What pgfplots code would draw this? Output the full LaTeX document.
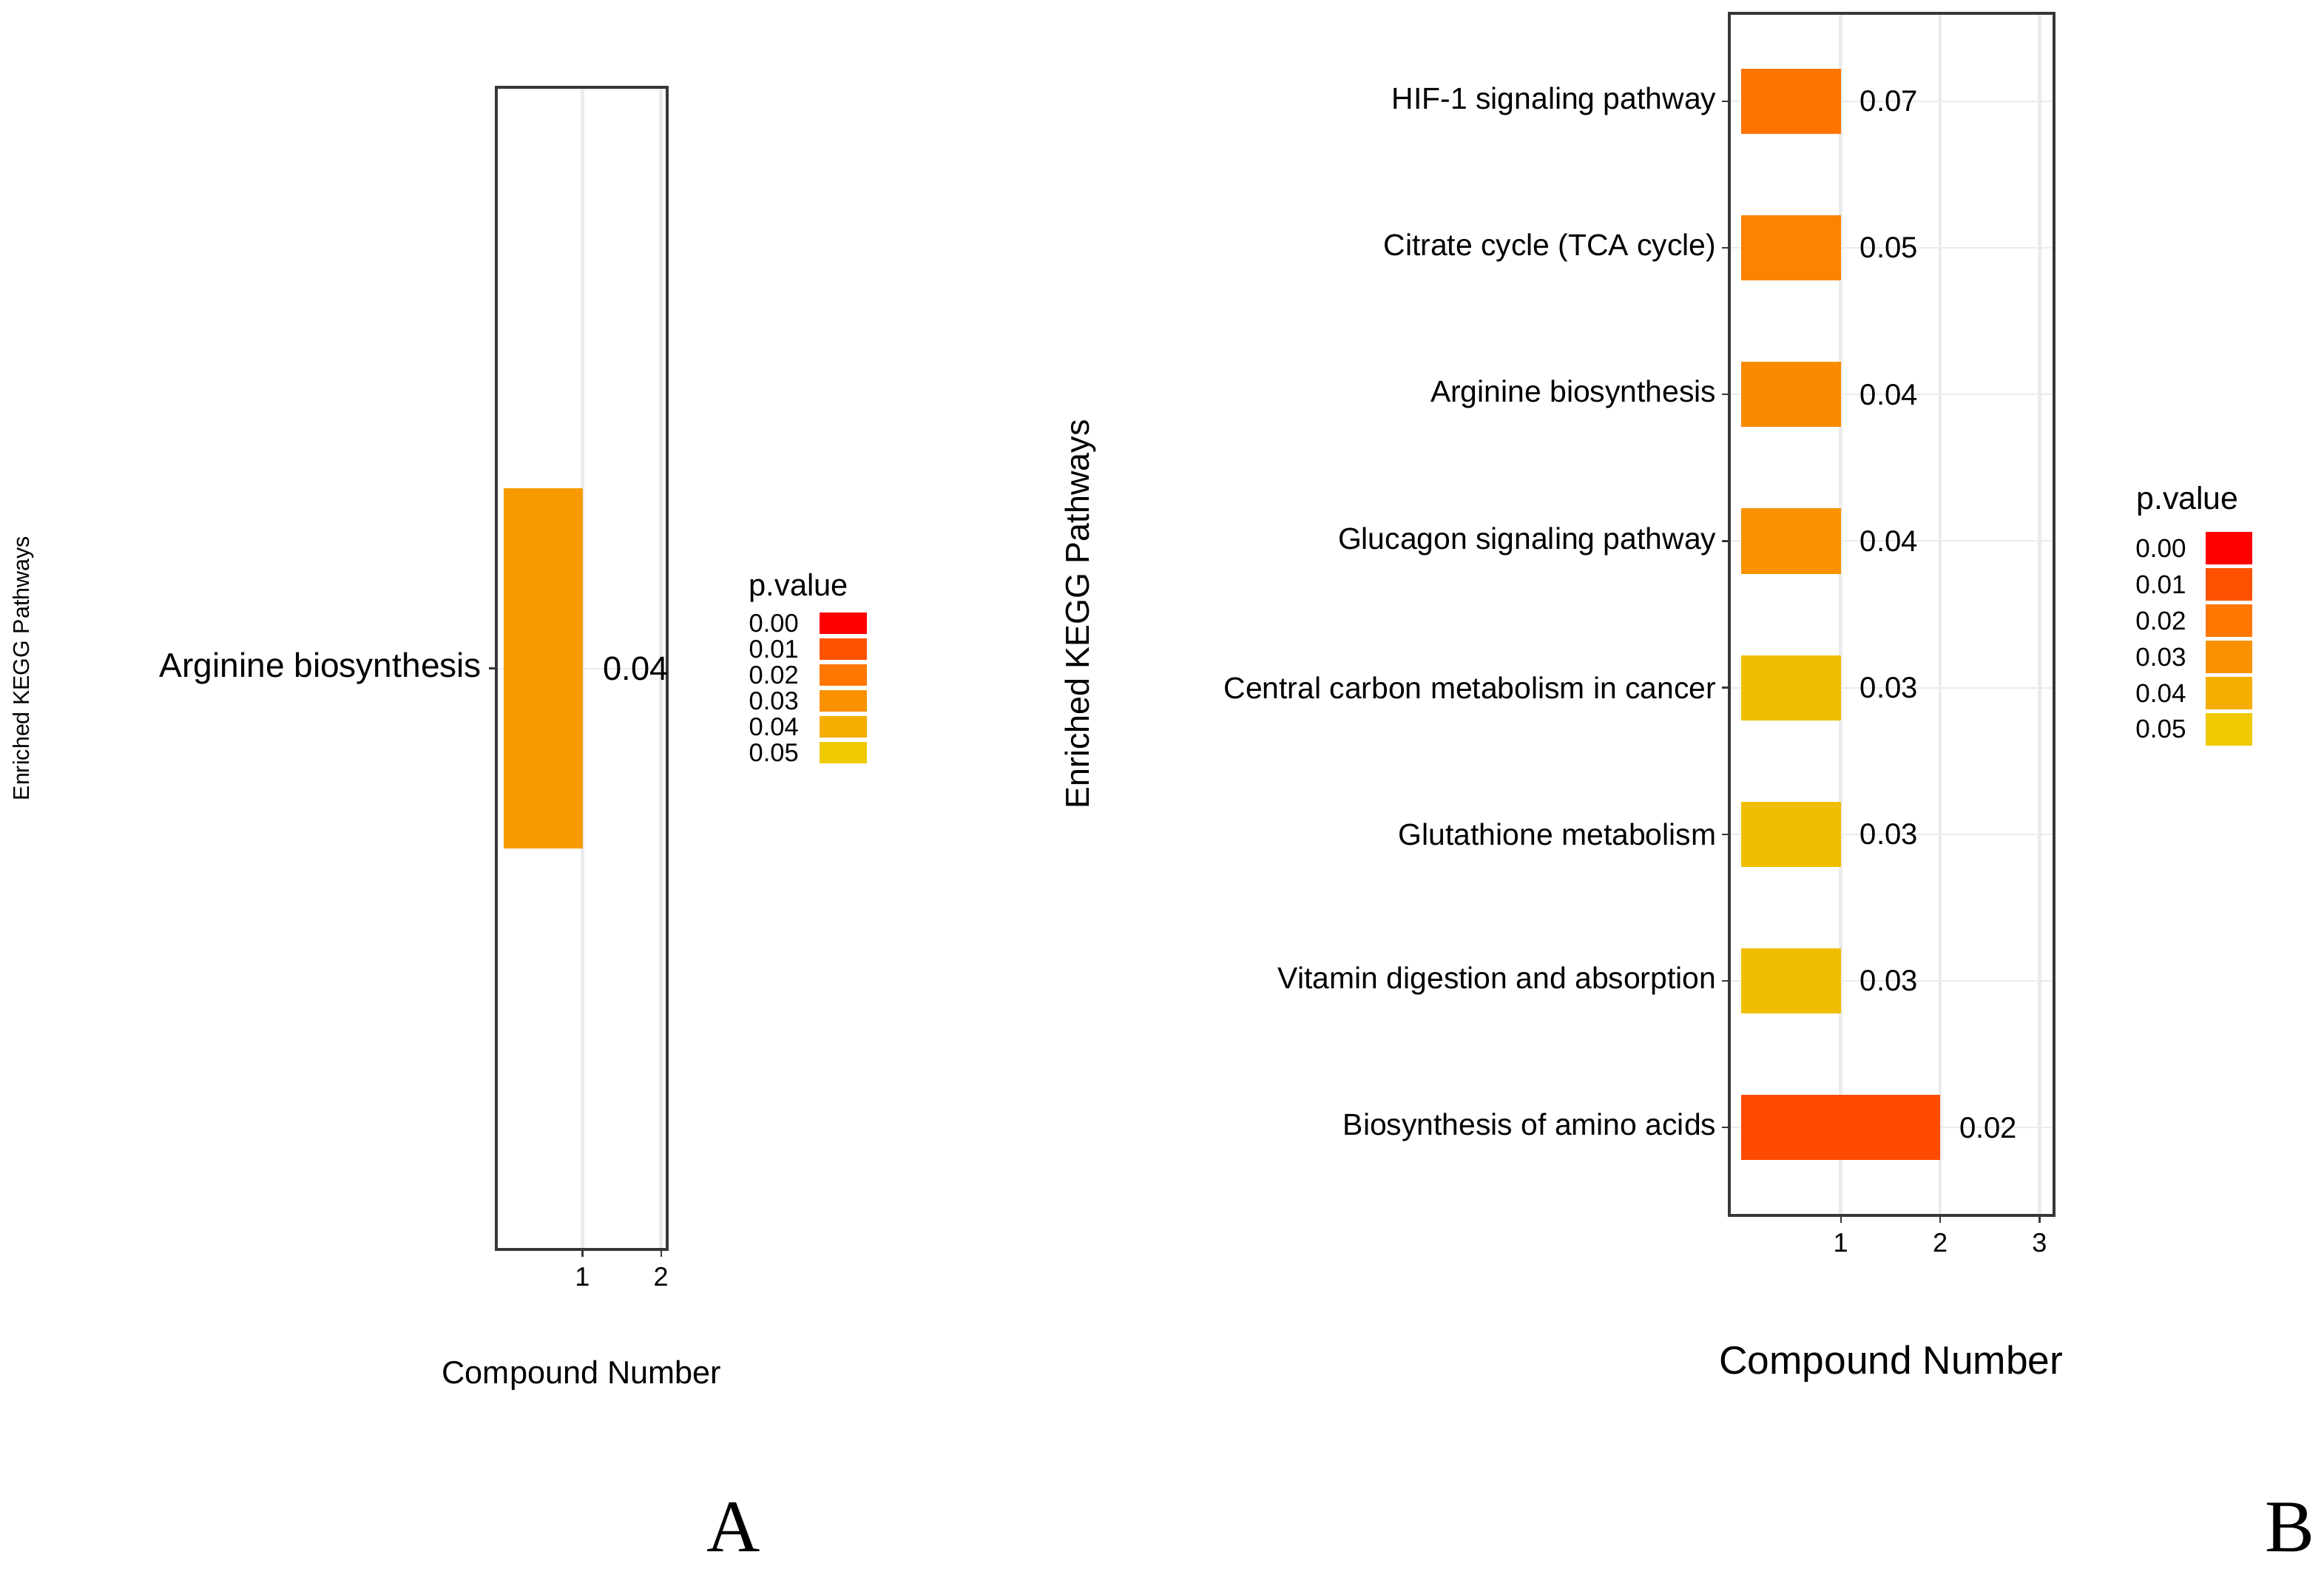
\documentclass[border=0pt]{standalone}
\usepackage{fontspec}
\setmainfont{Liberation Sans}
\newfontfamily\serifbig{Liberation Serif}
\usepackage{pgfplots}
\pgfplotsset{compat=1.18}

% legend colours (p.value scale)
\definecolor{p0}{RGB}{255,0,0}
\definecolor{p1}{RGB}{255,82,0}
\definecolor{p2}{RGB}{255,119,0}
\definecolor{p3}{RGB}{250,145,0}
\definecolor{p4}{RGB}{245,173,0}
\definecolor{p5}{RGB}{239,202,0}
% bar colours
\definecolor{bA}{RGB}{247,155,0}
\definecolor{bHIF}{RGB}{255,115,0}
\definecolor{bTCA}{RGB}{252,130,0}
\definecolor{bArg}{RGB}{250,138,0}
\definecolor{bGlu}{RGB}{248,146,0}
\definecolor{bYel}{RGB}{240,190,0}
\definecolor{bBio}{RGB}{255,75,0}
\definecolor{gridc}{RGB}{235,235,235}
\definecolor{framec}{RGB}{55,55,55}

\pgfplotsset{keggbar/.style={
  scale only axis, xbar, bar shift=0pt,
  axis line style={framec, line width=1pt},
  tick style={framec, line width=0.6pt},
  tick align=outside, major tick length=2.5pt,
  xtick pos=bottom, ytick pos=left,
  xmajorgrids, ymajorgrids,
  x grid style={gridc, line width=1.2pt},
  y grid style={gridc, line width=0.5pt},
  /pgf/number format/assume math mode=true,
  x tick label style={font=\fontsize{9}{10}\selectfont},
  point meta=explicit symbolic,
  nodes near coords,
  every node near coord/.append style={anchor=west, xshift=3pt, text=black},
}}

\begin{document}
\begin{tikzpicture}
\useasboundingbox (0,0) rectangle (784pt,529pt);

% ---------- panel A ----------
\begin{axis}[keggbar,
  at={(167.5pt,107.5pt)}, anchor=south west,
  width=57.5pt, height=392pt,
  xmin=-0.094, xmax=2.075, ymin=0, ymax=1,
  xtick={1,2}, ytick={0.5},
  yticklabels={Arginine biosynthesis},
  y tick label style={font=\fontsize{11.5}{13}\selectfont, xshift=1pt},
  bar width=0.31,
  every node near coord/.append style={font=\fontsize{11.3}{13}\selectfont, xshift=0.5pt},
]
\addplot[fill=bA, draw=none] coordinates {(1,0.5)[0.04]};
\end{axis}

% ---------- panel B ----------
\begin{axis}[keggbar,
  at={(583.5pt,119pt)}, anchor=south west,
  width=109.5pt, height=405.5pt,
  xmin=-0.119, xmax=3.149, ymin=-0.6, ymax=7.6,
  xtick={1,2,3}, ytick={0,...,7},
  yticklabels={Biosynthesis of amino acids,Vitamin digestion and absorption,Glutathione metabolism,Central carbon metabolism in cancer,Glucagon signaling pathway,Arginine biosynthesis,Citrate cycle (TCA cycle),HIF-1 signaling pathway},
  y tick label style={font=\fontsize{10.2}{12}\selectfont, xshift=1.5pt},
  bar width=0.445,
  every node near coord/.append style={font=\fontsize{10}{12}\selectfont},
]
\addplot[fill=bHIF, draw=none] coordinates {(1,7)[0.07]};
\addplot[fill=bTCA, draw=none] coordinates {(1,6)[0.05]};
\addplot[fill=bArg, draw=none] coordinates {(1,5)[0.04]};
\addplot[fill=bGlu, draw=none] coordinates {(1,4)[0.04]};
\addplot[fill=bYel, draw=none] coordinates {(1,3)[0.03]};
\addplot[fill=bYel, draw=none] coordinates {(1,2)[0.03]};
\addplot[fill=bYel, draw=none] coordinates {(1,1)[0.03]};
\addplot[fill=bBio, draw=none] coordinates {(2,0)[0.02]};
\end{axis}

% axis titles
\node[rotate=90, font=\fontsize{7.6}{9}\selectfont] at (8pt,303.5pt) {Enriched KEGG Pathways};
\node[font=\fontsize{10.8}{12}\selectfont] at (196.25pt,65pt) {Compound Number};
\node[rotate=90, font=\fontsize{11.2}{13}\selectfont] at (364.5pt,321.75pt) {Enriched KEGG Pathways};
\node[font=\fontsize{13.3}{15}\selectfont] at (638pt,69pt) {Compound Number};

% legend A
\node[anchor=west, inner sep=0pt, font=\fontsize{10.4}{12}\selectfont] at (252.5pt,330.6pt) {p.value};
\foreach \c/\t [count=\i from 0] in {p0/0.00,p1/0.01,p2/0.02,p3/0.03,p4/0.04,p5/0.05}{
  \pgfmathsetmacro{\yy}{318.85-8.75*\i}
  \node[anchor=west, inner sep=0pt, font=\fontsize{8.6}{10}\selectfont] at (252.5pt,\yy pt) {\t};
  \fill[\c] (276.5pt,\yy pt-3.6pt) rectangle (292.5pt,\yy pt+3.6pt);
}
% legend B
\node[anchor=west, inner sep=0pt, font=\fontsize{10.7}{12}\selectfont] at (720.5pt,360pt) {p.value};
\foreach \c/\t [count=\i from 0] in {p0/0.00,p1/0.01,p2/0.02,p3/0.03,p4/0.04,p5/0.05}{
  \pgfmathsetmacro{\yy}{344-12.2*\i}
  \node[anchor=west, inner sep=0pt, font=\fontsize{8.75}{10}\selectfont] at (720.25pt,\yy pt) {\t};
  \fill[\c] (744pt,\yy pt-5.5pt) rectangle (759.75pt,\yy pt+5.5pt);
}

% panel letters
\node[anchor=base, inner sep=0pt, font=\serifbig\fontsize{25}{28}\selectfont] at (247.5pt,5.5pt) {A};
\node[anchor=base, inner sep=0pt, font=\serifbig\fontsize{25}{28}\selectfont] at (772.5pt,5.5pt) {B};
\end{tikzpicture}
\end{document}
